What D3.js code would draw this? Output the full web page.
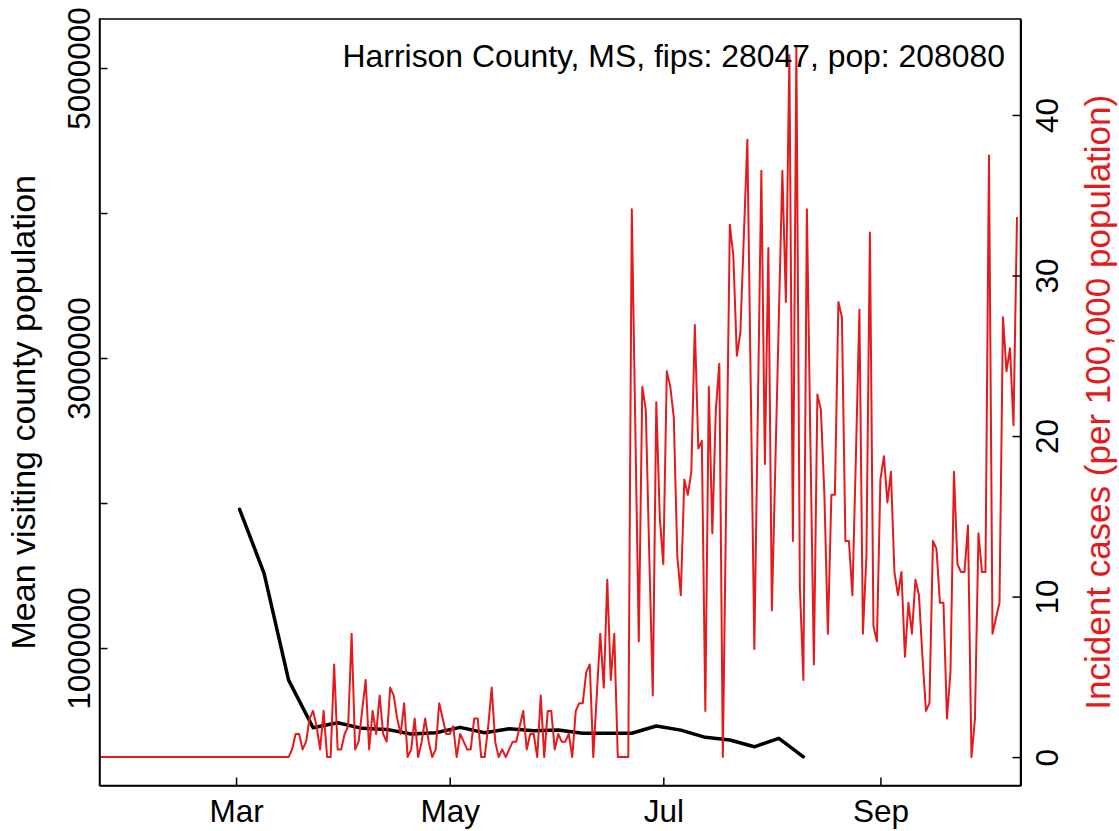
<!DOCTYPE html>
<html>
<head>
<meta charset="utf-8">
<script src="https://cdn.jsdelivr.net/npm/d3@7"></script>
<style>
  html, body { margin: 0; padding: 0; background: #fff; }
  svg { display: block; }
  text { font-family: "Liberation Sans", Arial, Helvetica, sans-serif; }
</style>
</head>
<body>
<svg id="chart" width="1119" height="831"></svg>
<script>
// ---------------- data ----------------
const titleText = "Harrison County, MS, fips: 28047, pop: 208080";
const leftAxisTitle = "Mean visiting county population";
const rightAxisTitle = "Incident cases (per 100,000 population)";

// daily incident cases per 100,000 population, starting 2020-01-22
const caseStart = "2020-01-22";
const incidentCases = [
  0,0,0,0,0,0,0,0,0,0, 0,0,0,0,0,0,0,0,0,0,
  0,0,0,0,0,0,0,0,0,0, 0,0,0,0,0,0,0,0,0,0,
  0,0,0,0,0,0,0,0,0,0, 0,0,0,0,
  0,0.48,1.44,1.44,0.48,0.96,2.40,2.88,1.92,0.48,
  2.88,0,0,5.77,0.48,0.48,1.44,1.92,7.69,0.48,
  0.96,2.88,4.81,0.48,2.88,1.44,3.84,1.44,0.96,4.33,
  3.84,2.40,1.44,3.36,0,0.48,2.40,0,0.96,2.40,
  0.96,0,0.48,3.36,2.40,1.44,1.44,1.92,0,1.44,
  0.96,0.48,0.48,2.40,2.40,0,0,1.92,4.33,0.96,
  0,0.48,0,0.48,0.96,0.96,1.92,2.88,0.48,1.44,
  1.44,0,3.84,0,2.88,2.88,0.48,1.44,0.96,0.96,
  1.44,0,2.88,3.36,3.36,5.29,5.77,0,3.84,7.69,
  4.33,11.05,4.81,7.69,0,0,0,0,34.12,20.67,
  7.21,23.07,21.63,12.50,3.84,22.11,14.90,12.02,24.03,23.07,
  21.15,12.50,10.09,17.30,16.34,17.78,26.91,19.22,19.70,2.88,
  23.07,13.94,21.63,24.51,0,16.82,33.16,31.23,25.00,26.43,
  32.44,38.45,22.59,6.73,21.63,36.52,18.26,31.71,9.13,18.26,
  27.40,36.52,28.35,43.73,13.46,44.21,10.57,4.81,34.12,19.70,
  5.77,22.59,21.63,16.34,7.69,16.34,16.34,28.35,27.40,13.46,
  13.46,10.09,18.74,27.87,7.69,12.50,32.68,8.17,7.21,17.30,
  18.74,15.86,17.78,11.53,10.09,11.53,6.25,9.61,7.69,11.05,
  10.09,6.25,2.88,3.36,13.46,12.98,9.61,9.61,2.40,5.29,
  17.78,12.02,11.53,11.53,14.42,0,2.40,13.94,11.53,11.53,
  37.48,7.69,8.65,9.61,27.40,24.03,25.47,20.67,33.64
];

// weekly mean visiting county population
const visitDates = [
  "2020-03-02","2020-03-09","2020-03-16","2020-03-23","2020-03-30","2020-04-06",
  "2020-04-13","2020-04-20","2020-04-27","2020-05-04","2020-05-11","2020-05-18",
  "2020-05-25","2020-06-01","2020-06-08","2020-06-15","2020-06-22","2020-06-29",
  "2020-07-06","2020-07-13","2020-07-20","2020-07-27","2020-08-03","2020-08-10"
];
const visitPop = [
  1957000,1515000,779000,450000,485000,446000,
  439000,407000,416000,453000,416000,443000,
  430000,434000,412000,412000,412000,462000,
  434000,384000,366000,319000,377000,250000
];

const xTickDates = ["2020-03-01","2020-05-01","2020-07-01","2020-09-01"];
const xTickLabels = ["Mar","May","Jul","Sep"];
const xLimits = ["2020-01-22","2020-10-11"];
const leftTicks = [1000000,2000000,3000000,4000000,5000000];
const leftTickLabels = ["1000000","","3000000","","5000000"];
const leftLimits = [52000, 5338000];
const rightTicks = [0,10,20,30,40];
const rightTickLabels = ["0","10","20","30","40"];

// ---------------- layout ----------------
const svg = d3.select("#chart");
const plot = {left: 99.5, right: 1020.5, top: 19, bottom: 785.5};
const red = "#E41A1C";
const fs = 31.5;
const parse = d3.utcParse("%Y-%m-%d");

const x = d3.scaleUtc()
  .domain(xLimits.map(parse))
  .range([plot.left, plot.right]);

const maxCases = d3.max(incidentCases);
const yR = d3.scaleLinear()
  .domain([-0.04 * maxCases, 1.04 * maxCases])
  .range([plot.bottom, plot.top]);

const yL = d3.scaleLinear()
  .domain(leftLimits)
  .range([plot.bottom, plot.top]);

const start = parse(caseStart);
const caseData = incidentCases.map((v, i) => ({date: d3.utcDay.offset(start, i), v}));
const visitData = visitDates.map((d, i) => ({date: parse(d), v: visitPop[i]}));

svg.append("defs").append("clipPath").attr("id", "clip")
  .append("rect")
  .attr("x", plot.left).attr("y", plot.top)
  .attr("width", plot.right - plot.left).attr("height", plot.bottom - plot.top);

// black line (left axis)
svg.append("path")
  .datum(visitData)
  .attr("clip-path", "url(#clip)")
  .attr("fill", "none")
  .attr("stroke", "#000")
  .attr("stroke-width", 3.5)
  .attr("stroke-linejoin", "round")
  .attr("stroke-linecap", "round")
  .attr("d", d3.line().x(d => x(d.date)).y(d => yL(d.v)));

// red line (right axis)
svg.append("path")
  .datum(caseData)
  .attr("clip-path", "url(#clip)")
  .attr("fill", "none")
  .attr("stroke", red)
  .attr("stroke-width", 2)
  .attr("stroke-linejoin", "round")
  .attr("d", d3.line().x(d => x(d.date)).y(d => yR(d.v)));

// frame
svg.append("rect")
  .attr("x", plot.left).attr("y", plot.top)
  .attr("width", plot.right - plot.left).attr("height", plot.bottom - plot.top)
  .attr("fill", "none").attr("stroke", "#000").attr("stroke-width", 1.5);

// bottom axis (ticks inward)
const tickLen = 8;
const xAxis = svg.append("g").attr("transform", `translate(0,${plot.bottom})`)
  .call(d3.axisBottom(x)
    .tickValues(xTickDates.map(parse))
    .tickFormat((d, i) => xTickLabels[i])
    .tickSizeInner(-tickLen).tickSizeOuter(0).tickPadding(0));
xAxis.select(".domain").attr("stroke", "#000").attr("stroke-width", 1.5);
xAxis.selectAll(".tick line").attr("stroke", "#000").attr("stroke-width", 1.5);
xAxis.selectAll(".tick text")
  .attr("font-size", fs).attr("fill", "#000")
  .attr("y", 36.5).attr("dy", 0)
  .attr("font-family", '"Liberation Sans", Arial, sans-serif');

// left axis
const lAxis = svg.append("g").attr("transform", `translate(${plot.left},0)`)
  .call(d3.axisLeft(yL)
    .tickValues(leftTicks)
    .tickFormat((d, i) => leftTickLabels[i])
    .tickSizeInner(-tickLen).tickSizeOuter(0));
lAxis.select(".domain").attr("stroke", "#000").attr("stroke-width", 1.5);
lAxis.selectAll(".tick line").attr("stroke", "#000").attr("stroke-width", 1.5);
lAxis.selectAll(".tick text").remove();
lAxis.selectAll(".tick").append("text")
  .attr("transform", "translate(-9.5,0) rotate(-90)")
  .attr("text-anchor", "middle")
  .attr("font-size", fs).attr("fill", "#000")
  .attr("font-family", '"Liberation Sans", Arial, sans-serif')
  .text((d, i) => leftTickLabels[i]);

// right axis
const rAxis = svg.append("g").attr("transform", `translate(${plot.right},0)`)
  .call(d3.axisRight(yR)
    .tickValues(rightTicks)
    .tickFormat((d, i) => rightTickLabels[i])
    .tickSizeInner(-tickLen).tickSizeOuter(0));
rAxis.select(".domain").attr("stroke", "#000").attr("stroke-width", 2);
rAxis.selectAll(".tick line").attr("stroke", "#000").attr("stroke-width", 1.5);
rAxis.selectAll(".tick text").remove();
rAxis.selectAll(".tick").append("text")
  .attr("transform", "translate(37.5,0) rotate(-90)")
  .attr("text-anchor", "middle")
  .attr("font-size", fs).attr("fill", "#000")
  .attr("font-family", '"Liberation Sans", Arial, sans-serif')
  .text((d, i) => rightTickLabels[i]);

// axis titles
const midY = (plot.top + plot.bottom) / 2;
svg.append("text")
  .attr("transform", `translate(35,${midY + 10}) rotate(-90)`)
  .attr("text-anchor", "middle")
  .attr("font-size", 34).attr("fill", "#000")
  .text(leftAxisTitle);

svg.append("text")
  .attr("transform", `translate(1110,${midY}) rotate(-90)`)
  .attr("text-anchor", "middle")
  .attr("font-size", 35).attr("fill", red)
  .text(rightAxisTitle);

// title (legend-like, top right)
svg.append("text")
  .attr("x", 1005).attr("y", 67)
  .attr("text-anchor", "end")
  .attr("font-size", 31.9).attr("fill", "#000")
  .text(titleText);
</script>
</body>
</html>
